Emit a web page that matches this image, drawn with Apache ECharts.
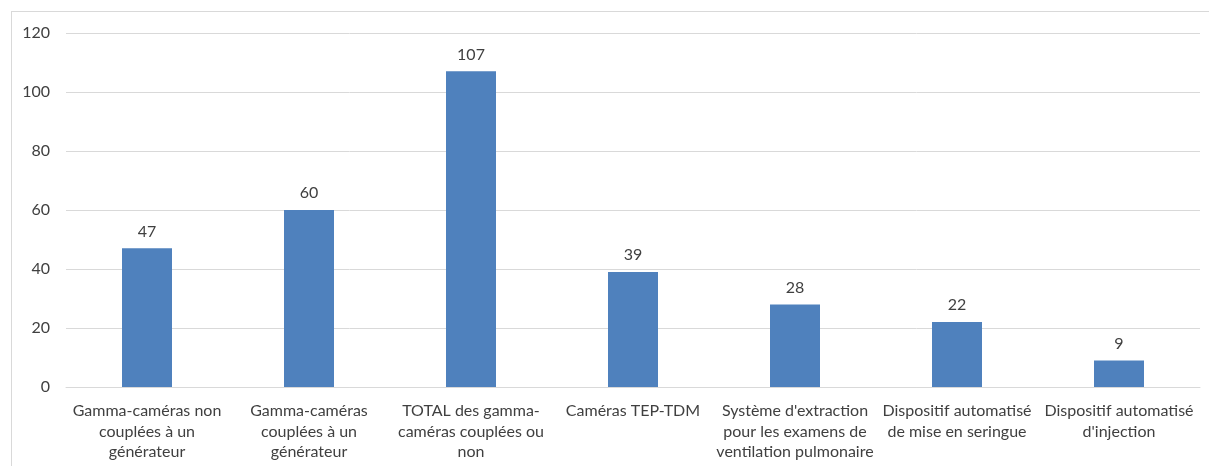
<!DOCTYPE html>
<html>
<head>
<meta charset="utf-8">
<script src="https://cdn.jsdelivr.net/npm/echarts@6/dist/echarts.min.js"></script>
<style>
  html, body { margin: 0; padding: 0; background: #fff; }
  #frame { position: absolute; left: 11px; top: 11px; width: 1210px; height: 470px; border: 1px solid #d9d9d9; box-sizing: border-box; }
  #chart { position: absolute; left: 0; top: 0; width: 1209px; height: 466px; }
</style>
</head>
<body>
<div id="frame"></div>
<div id="chart"></div>
<script>
// Equipment categories (line breaks as printed under each bar)
const categories = [
  "Gamma-caméras non\ncouplées à un\ngénérateur",
  "Gamma-caméras\ncouplées à un\ngénérateur",
  "TOTAL des gamma-\ncaméras couplées ou\nnon",
  "Caméras TEP-TDM",
  "Système d'extraction\npour les examens de\nventilation pulmonaire",
  "Dispositif automatisé\nde mise en seringue",
  "Dispositif automatisé\nd'injection"
];
// Number of units per category
const values = [47, 60, 107, 39, 28, 22, 9];
// Value axis range
const yMin = 0, yMax = 120, yStep = 20;

const font = "Lato, 'Open Sans', sans-serif";
const chart = echarts.init(document.getElementById('chart'), null, { renderer: 'canvas' });
chart.setOption({
  animation: false,
  grid: { left: 66, right: 9, top: 33, bottom: 79, containLabel: false },
  xAxis: {
    type: 'category',
    data: categories,
    axisLine: { lineStyle: { color: '#d9d9d9', width: 1 } },
    axisTick: { show: false },
    axisLabel: {
      interval: 0, margin: 14, color: '#404040',
      fontFamily: font, fontSize: 16, lineHeight: 20.5, align: 'center'
    }
  },
  yAxis: {
    type: 'value', min: yMin, max: yMax, interval: yStep,
    axisLine: { show: false }, axisTick: { show: false },
    splitLine: { lineStyle: { color: '#d9d9d9', width: 1 } },
    axisLabel: { margin: 16, color: '#404040', fontFamily: font, fontSize: 16 }
  },
  series: [{
    type: 'bar',
    data: values,
    barWidth: 50,
    itemStyle: { color: '#4f81bd' },
    label: {
      show: true, position: 'top', distance: 9,
      color: '#404040', fontFamily: font, fontSize: 16
    }
  }]
});
</script>
</body>
</html>
